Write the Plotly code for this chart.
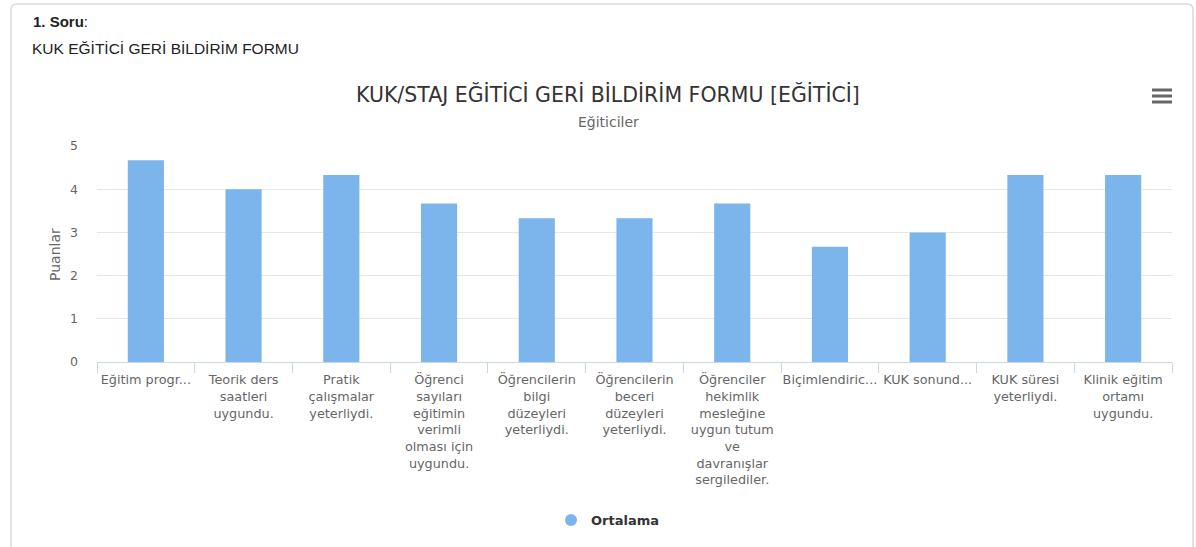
import plotly.graph_objects as go

# ---- data ----
categories = [
    "Eğitim progr...",
    "Teorik ders<br>saatleri<br>uygundu.",
    "Pratik<br>çalışmalar<br>yeterliydi.",
    "Öğrenci<br>sayıları<br>eğitimin<br>verimli<br>olması için<br>uygundu.",
    "Öğrencilerin<br>bilgi<br>düzeyleri<br>yeterliydi.",
    "Öğrencilerin<br>beceri<br>düzeyleri<br>yeterliydi.",
    "Öğrenciler<br>hekimlik<br>mesleğine<br>uygun tutum<br>ve<br>davranışlar<br>sergilediler.",
    "Biçimlendiric...",
    "KUK sonund...",
    "KUK süresi<br>yeterliydi.",
    "Klinik eğitim<br>ortamı<br>uygundu.",
]
ortalama = [4.67, 4.0, 4.33, 3.67, 3.33, 3.33, 3.67, 2.67, 3.0, 4.33, 4.33]
y_ticks = [0, 1, 2, 3, 4, 5]

series_name = "Ortalama"
title_text = "KUK/STAJ EĞİTİCİ GERİ BİLDİRİM FORMU [EĞİTİCİ]"
subtitle_text = "Eğiticiler"
y_title = "Puanlar"
header1 = "<b>1. Soru</b>:"
header2 = "KUK EĞİTİCİ GERİ BİLDİRİM FORMU"

# ---- layout geometry (pixels) ----
W, H = 1196, 547
PL, PR, PT, PB = 97, 1172, 146, 362
pw, ph = PR - PL, PB - PT


def px(x):
    return (x - PL) / pw


def py(y):
    return (PB - y) / ph


FONT = "DejaVu Sans"
BAR_COLOR = "#7cb5ec"

fig = go.Figure()
fig.add_trace(go.Bar(
    x=categories, y=ortalama, name=series_name,
    marker=dict(color=BAR_COLOR, line=dict(width=0)),
    showlegend=False,
))
fig.add_trace(go.Scatter(
    x=[None], y=[None], mode="markers", name=f"<b>{series_name}</b>",
    marker=dict(symbol="circle", size=14, color=BAR_COLOR),
    showlegend=True,
))

# card border with rounded corners
r = 6
x0, x1, y0, y1 = 11, 1193, 4, 600


def P(x, y):
    return f"{px(x):.5f},{py(y):.5f}"


card_path = (
    f"M {P(x0, y1)} L {P(x0, y0 + r)} Q {P(x0, y0)} {P(x0 + r, y0)} "
    f"L {P(x1 - r, y0)} Q {P(x1, y0)} {P(x1, y0 + r)} "
    f"L {P(x1, y1)}"
)
shapes = [dict(type="path", xref="paper", yref="paper", path=card_path,
               line=dict(color="#d9d9d9", width=1.5), layer="below")]
# hamburger menu icon
for yy in (90, 96, 102):
    shapes.append(dict(type="line", xref="paper", yref="paper",
                       x0=px(1152), x1=px(1172), y0=py(yy), y1=py(yy),
                       line=dict(color="#666666", width=3)))

annotations = [
    dict(text=header1, x=px(31), y=py(22), xref="paper", yref="paper",
         xanchor="left", yanchor="middle", showarrow=False,
         font=dict(family="Liberation Sans", size=15, color="#222222")),
    dict(text=header2, x=px(30), y=py(48), xref="paper", yref="paper",
         xanchor="left", yanchor="middle", showarrow=False,
         font=dict(family="Liberation Sans", size=15.5, color="#222222")),
    dict(text=title_text, x=px(608), y=py(95), xref="paper", yref="paper",
         xanchor="center", yanchor="middle", showarrow=False,
         font=dict(family=FONT, size=20.5, color="#333333")),
    dict(text=subtitle_text, x=px(608), y=py(122), xref="paper", yref="paper",
         xanchor="center", yanchor="middle", showarrow=False,
         font=dict(family=FONT, size=14, color="#666666")),
    dict(text=y_title, x=px(55), y=py(255), xref="paper", yref="paper",
         xanchor="center", yanchor="middle", showarrow=False, textangle=-90,
         font=dict(family=FONT, size=14, color="#666666")),
]

fig.update_layout(
    width=W, height=H,
    margin=dict(l=PL, r=W - PR, t=PT, b=H - PB, pad=0),
    paper_bgcolor="white", plot_bgcolor="white",
    bargap=0.63,
    font=dict(family=FONT, color="#666666"),
    shapes=shapes, annotations=annotations,
    legend=dict(orientation="h", x=px(607.5), xanchor="center", y=py(520), yanchor="middle",
                font=dict(family=FONT, size=13, color="#333333"),
                itemsizing="constant", bgcolor="rgba(0,0,0,0)"),
    xaxis=dict(
        type="category", tickson="boundaries", ticks="outside", ticklen=10,
        tickcolor="#ccd6eb", tickwidth=1, showline=True, linecolor="#ccd6eb",
        linewidth=1, showgrid=False, tickangle=0,
        tickfont=dict(family=FONT, size=12.8, color="#666666"),
        ticklabelstandoff=6, fixedrange=True,
    ),
    yaxis=dict(
        range=[0, 5], tickvals=y_ticks, showgrid=True, gridcolor="#e6e6e6",
        gridwidth=1, zeroline=False, showline=False, ticks="",
        tickfont=dict(family=FONT, size=12.5, color="#666666"),
        ticklabelstandoff=18, fixedrange=True,
    ),
)

fig.write_html(
    "out.html",
    config={"displayModeBar": False},
    post_script="document.body.style.margin='0';document.body.style.padding='0';"
                "document.documentElement.style.overflow='hidden';",
)
